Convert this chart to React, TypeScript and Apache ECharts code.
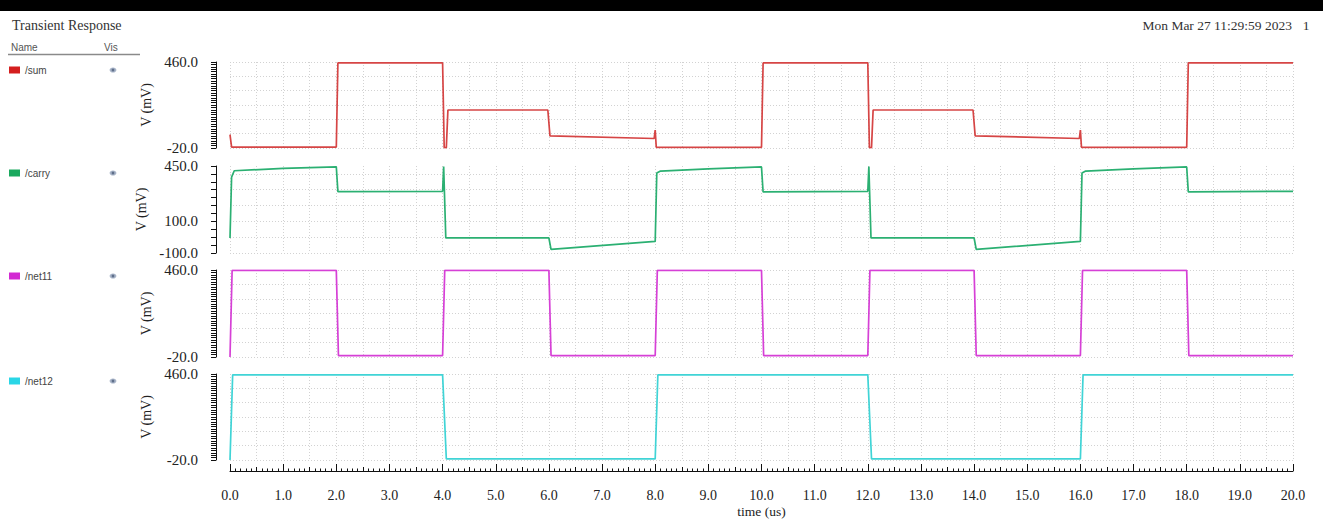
import React, { useEffect, useRef } from 'react';
import * as echarts from 'echarts';

// ---- data (time in us, voltage in mV) ----
const sumData: [number, number][] = [
  [0, 55], [0.03, -15], [2.0, -15], [2.03, 455], [4.0, 455], [4.03, -18], [4.07, -18], [4.1, 192],
  [5.98, 192], [6.02, 48], [7.98, 33], [8.0, 80], [8.02, -16], [10.0, -16], [10.03, 455], [12.0, 455],
  [12.03, -18], [12.07, -18], [12.1, 192], [13.98, 192], [14.02, 48], [15.98, 33], [16.0, 80],
  [16.02, -16], [18.0, -16], [18.03, 455], [20.0, 455],
];
const carryData: [number, number][] = [
  [0, -5], [0.03, 380], [0.08, 420], [1.0, 435], [2.0, 445], [2.03, 288], [4.0, 290], [4.02, 446],
  [4.06, -5], [6.0, -5], [6.04, -77], [8.0, -27], [8.03, 405], [8.1, 418], [9.0, 432], [10.0, 444],
  [10.03, 286], [12.0, 290], [12.02, 446], [12.06, -5], [14.0, -5], [14.04, -77], [16.0, -27],
  [16.03, 405], [16.1, 418], [17.0, 432], [18.0, 444], [18.03, 286], [20.0, 290],
];
const net11Data: [number, number][] = [
  [0, -20], [0.04, 458], [2.0, 458], [2.04, -12], [4.0, -12], [4.04, 458], [6.0, 458], [6.04, -12],
  [8.0, -12], [8.04, 458], [10.0, 458], [10.04, -12], [12.0, -12], [12.04, 458], [14.0, 458],
  [14.04, -12], [16.0, -12], [16.04, 458], [18.0, 458], [18.04, -12], [20.0, -12],
];
const net12Data: [number, number][] = [
  [0, -20], [0.05, 455], [4.0, 455], [4.07, -14], [8.0, -14], [8.05, 455], [12.0, 455], [12.07, -14],
  [16.0, -14], [16.05, 455], [20.0, 455],
];

const seriesNames = ['/sum', '/carry', '/net11', '/net12'];
const seriesData = [sumData, carryData, net11Data, net12Data];
const seriesColors = ['#d64545', '#2bb072', '#d640d6', '#40d4d6'];
const legendColors = ['#d41e1e', '#1aa95e', '#d22ad2', '#2ad6e6'];

const vRanges: [number, number][] = [[-20, 460], [-100, 450], [-20, 460], [-20, 460]];
const vLabels = [[-20, 460], [-100, 100, 450], [-20, 460], [-20, 460]];
const vGridLines = [
  [-20, 60, 140, 220, 300, 380, 460],
  [-100, 0, 100, 200, 300, 400],
  [-20, 60, 140, 220, 300, 380, 460],
  [-20, 60, 140, 220, 300, 380, 460],
];
const vTickCounts = [36, 11, 36, 36];
const timeMin = 0;
const timeMax = 20;

const title = 'Transient Response';
const dateText = 'Mon Mar 27 11:29:59 2023';
const pageNo = '1';

// ---- layout ----
const gridTops = [62, 166, 270, 374];
const gridHeights = [86, 87, 87, 87];
const legendY = [70, 173, 276, 381];

const SERIF = '"Liberation Serif", "DejaVu Serif", serif';
const SANS = '"Liberation Sans", Arial, sans-serif';

function tickValues(i: number): number[] {
  const [mn, mx] = vRanges[i];
  const n = vTickCounts[i];
  const out: number[] = [];
  for (let k = 0; k <= n; k++) out.push(mn + ((mx - mn) * k) / n);
  return out;
}

export default function App() {
  const ref = useRef<HTMLDivElement>(null);

  useEffect(() => {
    if (!ref.current) return;
    const chart = echarts.init(ref.current, undefined, { renderer: 'svg' });

    const gridLineStyle = { color: '#d2d2d2', width: 1, type: [1, 2] as number[] };

    const grids = gridTops.map((t, i) => ({ left: 230, right: 30, top: t, height: gridHeights[i] }));

    const xAxes: any[] = gridTops.map((_, i) => ({
      type: 'value', gridIndex: i, min: timeMin, max: timeMax, interval: 0.5,
      axisLine: { show: false }, axisTick: { show: false }, axisLabel: { show: false },
      splitLine: { show: true, lineStyle: gridLineStyle },
    }));
    xAxes.push({
      type: 'value', gridIndex: 3, min: timeMin, max: timeMax, interval: 0.5, offset: 11, position: 'bottom',
      axisLine: { show: true, onZero: false, lineStyle: { color: '#111', width: 1 } },
      axisTick: { show: true, inside: true, length: 4, lineStyle: { color: '#111' } },
      minorTick: { show: true, splitNumber: 5, length: 2.5, lineStyle: { color: '#111' } },
      axisLabel: { show: false },
      splitLine: { show: false },
      name: 'time (us)', nameLocation: 'middle', nameGap: 33,
      nameTextStyle: { fontFamily: SERIF, fontSize: 13.5, color: '#222' },
    });
    xAxes.push({
      type: 'value', gridIndex: 3, min: timeMin, max: timeMax, interval: 1, offset: 11, position: 'bottom',
      axisLine: { show: false, onZero: false },
      axisTick: { show: true, inside: true, length: 7, lineStyle: { color: '#111' } },
      axisLabel: {
        show: true, margin: 17, fontFamily: SERIF, fontSize: 14, color: '#222',
        formatter: (v: number) => v.toFixed(1),
      },
      splitLine: { show: false },
    });

    const yAxes: any[] = [];
    vRanges.forEach(([mn, mx], i) => {
      yAxes.push({
        type: 'value', gridIndex: i, min: mn, max: mx, offset: 14, position: 'left',
        axisLine: { show: true, onZero: false, lineStyle: { color: '#111', width: 1 } },
        axisTick: { show: true, length: 5, customValues: tickValues(i), lineStyle: { color: '#111' } },
        axisLabel: {
          show: true, customValues: vLabels[i], margin: 18, fontFamily: SERIF, fontSize: 15, color: '#222',
          formatter: (v: number) => v.toFixed(1),
        },
        splitLine: { show: false },
        name: 'V (mV)', nameLocation: 'middle', nameGap: 56, nameRotate: 90,
        nameTextStyle: { fontFamily: SERIF, fontSize: 14, color: '#222' },
      });
      yAxes.push({
        type: 'value', gridIndex: i, min: mn, max: mx, position: 'left',
        axisLine: { show: false }, axisTick: { show: false, customValues: vGridLines[i] },
        axisLabel: { show: false },
        splitLine: { show: true, lineStyle: gridLineStyle },
      });
    });

    const series = seriesNames.map((name, i) => ({
      name, type: 'line', xAxisIndex: i, yAxisIndex: i * 2, data: seriesData[i],
      showSymbol: false, symbol: 'none', color: seriesColors[i],
      lineStyle: { width: 1.7, color: seriesColors[i] }, silent: true,
    }));

    const legends = seriesNames.map((name, i) => ({
      data: [{ name, itemStyle: { color: legendColors[i] } }],
      left: 9, top: legendY[i] - 6, padding: 0, icon: 'rect', itemWidth: 11, itemHeight: 7,
      selectedMode: false,
      textStyle: { fontFamily: SANS, fontSize: 10, color: '#444', lineHeight: 12 },
    }));

    const graphics: any[] = [
      { type: 'rect', shape: { x: 0, y: 0, width: 1323, height: 11 }, style: { fill: '#000' } },
      { type: 'text', x: 12, y: 25, style: { text: title, font: `14px ${SERIF}`, fill: '#333', verticalAlign: 'middle' } },
      { type: 'text', x: 1292, y: 25, style: { text: dateText, font: `13.5px ${SERIF}`, fill: '#333', align: 'right', verticalAlign: 'middle' } },
      { type: 'text', x: 1306, y: 25, style: { text: pageNo, font: `13.5px ${SERIF}`, fill: '#333', align: 'center', verticalAlign: 'middle' } },
      { type: 'text', x: 11, y: 47, style: { text: 'Name', font: `10px ${SANS}`, fill: '#555', verticalAlign: 'middle' } },
      { type: 'text', x: 104, y: 47, style: { text: 'Vis', font: `10px ${SANS}`, fill: '#555', verticalAlign: 'middle' } },
      { type: 'line', shape: { x1: 8, y1: 54.5, x2: 140, y2: 54.5 }, style: { stroke: '#8a8a8a', lineWidth: 1.5 } },
    ];
    legendY.forEach((y) => {
      graphics.push({ type: 'ellipse', shape: { cx: 113, cy: y, rx: 3.4, ry: 2.6 }, style: { fill: '#a8b4c8' } });
      graphics.push({ type: 'circle', shape: { cx: 113, cy: y, r: 1.4 }, style: { fill: '#5f6f8a' } });
    });

    chart.setOption({
      animation: false,
      backgroundColor: '#fff',
      textStyle: { fontFamily: SERIF },
      grid: grids,
      xAxis: xAxes,
      yAxis: yAxes,
      legend: legends,
      series,
      graphic: graphics,
    });

    return () => chart.dispose();
  }, []);

  return (
    <div
      ref={ref}
      style={{ position: 'fixed', left: 0, top: 0, width: 1323, height: 519, background: '#fff' }}
    />
  );
}
